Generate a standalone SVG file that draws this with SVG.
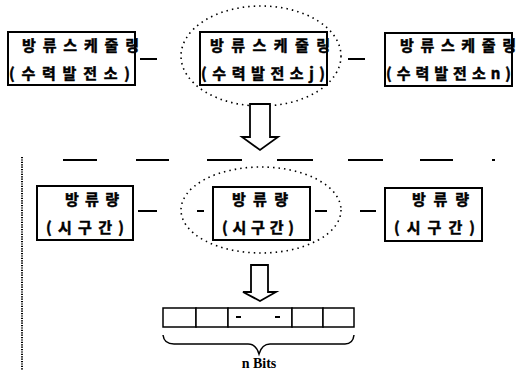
<svg xmlns="http://www.w3.org/2000/svg" width="519" height="370" viewBox="0 0 519 370">
<style>
.box{fill:none;stroke:#000;stroke-width:2}
.t{font-family:"Noto Sans CJK KR","Noto Sans",sans-serif;font-weight:bold;font-size:15px;fill:#000;stroke:#000;stroke-width:0.5}
.ln{stroke:#000;stroke-width:2;fill:none}
.dot{stroke:#000;stroke-width:1.6;fill:none;stroke-dasharray:1.5 4}
.arr{fill:#fff;stroke:#000;stroke-width:1.8}
.cell{fill:#fff;stroke:#000;stroke-width:1.5}
</style>
<rect width="519" height="370" fill="#fff"/>
<g id="ellipses">
<ellipse class="dot" cx="261" cy="56" rx="80" ry="50"/>
<ellipse class="dot" cx="261" cy="210" rx="80" ry="43"/>
</g>
<g id="connectors">
<line class="ln" x1="140" y1="59" x2="157" y2="59"/>
<line class="ln" x1="348" y1="59" x2="365" y2="59"/>
<line class="ln" x1="138" y1="211" x2="157" y2="211"/>
<line class="ln" x1="197" y1="211" x2="204" y2="211"/>
<line class="ln" x1="315" y1="211" x2="327" y2="211"/>
<line class="ln" x1="360" y1="211" x2="376" y2="211"/>
<path class="ln" d="M63 160H97M136 160H169M207 160H242M277 160H313M348 160H383M420 160H453M492 160H495"/>
<line x1="22" y1="157" x2="22" y2="370" stroke="#000" stroke-width="2" stroke-dasharray="1.2 1.2"/>
<path class="arr" d="M250 104H270V137H278L260 150L242 137H250Z"/>
<path class="arr" d="M251 265H268V292H276L260 301L243 292H251Z"/>
</g>
<g id="n1">
<rect class="box" x="8" y="32" width="127" height="53"/>
<text class="t" x="22" y="51" textLength="117" lengthAdjust="spacing">방류스케줄링</text>
<text class="t" x="9" y="79" textLength="121" lengthAdjust="spacing">(수력발전소)</text>
</g>
<g id="n2">
<rect class="box" x="200" y="32" width="127" height="53"/>
<text class="t" x="210" y="51" textLength="120" lengthAdjust="spacing">방류스케줄링</text>
<text class="t" x="201" y="79" textLength="124" lengthAdjust="spacing">(수력발전소j)</text>
</g>
<g id="n3">
<rect class="box" x="385" y="33" width="127" height="53"/>
<text class="t" x="400" y="51" textLength="116" lengthAdjust="spacing">방류스케줄링</text>
<text class="t" x="386" y="79" textLength="125" lengthAdjust="spacing">(수력발전소n)</text>
</g>
<g id="n4">
<rect class="box" x="37" y="186" width="96" height="54"/>
<text class="t" x="65" y="205" textLength="54" lengthAdjust="spacing">방류량</text>
<text class="t" x="46" y="233" textLength="78" lengthAdjust="spacing">(시구간)</text>
</g>
<g id="n5">
<rect class="box" x="213" y="187" width="97" height="53"/>
<text class="t" x="232" y="205" textLength="56" lengthAdjust="spacing">방류량</text>
<text class="t" x="222" y="233" textLength="72" lengthAdjust="spacing">(시구간)</text>
</g>
<g id="n6">
<rect class="box" x="385" y="188" width="97" height="53"/>
<text class="t" x="412" y="205" textLength="57" lengthAdjust="spacing">방류량</text>
<text class="t" x="394" y="233" textLength="81" lengthAdjust="spacing">(시구간)</text>
</g>
<g id="bits">
<rect class="cell" x="163" y="308" width="33" height="19"/>
<rect class="cell" x="196" y="308" width="32" height="19"/>
<rect class="cell" x="228" y="308" width="64" height="19"/>
<rect class="cell" x="292" y="308" width="31" height="19"/>
<rect class="cell" x="323" y="308" width="31" height="19"/>
<path class="ln" stroke-width="1.5" d="M236 317H241M275 317H280"/>
<path fill="none" stroke="#000" stroke-width="1.5" d="M163 335Q164 344 174 344H248Q256 344 259 354Q262 344 270 344H345Q353 344 354 335"/>
<text x="259" y="368" text-anchor="middle" font-family="Liberation Serif,serif" font-weight="bold" font-size="14">n Bits</text>
</g>
</svg>
